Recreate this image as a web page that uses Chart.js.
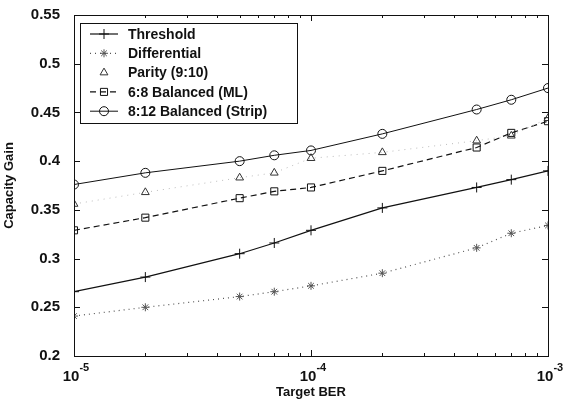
<!DOCTYPE html>
<html>
<head>
<meta charset="utf-8">
<script src="https://cdn.jsdelivr.net/npm/chart.js@4"></script>
<style>
  html, body { margin: 0; padding: 0; background: #fff; }
  #wrap { width: 568px; height: 405px; }
</style>
</head>
<body>
<div id="wrap"><canvas id="lineChart" width="568" height="405"></canvas></div>
<script>
// Target BER values (x axis)
const berTargets = [1e-5, 2e-5, 5e-5, 7e-5, 1e-4, 2e-4, 5e-4, 7e-4, 1e-3];

// Capacity gain per scheme
const threshold    = [0.266, 0.281, 0.305, 0.316, 0.329, 0.352, 0.373, 0.381, 0.390];
const differential = [0.241, 0.250, 0.261, 0.266, 0.272, 0.285, 0.311, 0.326, 0.334];
const parity       = [0.356, 0.368, 0.383, 0.388, 0.403, 0.409, 0.421, 0.426, 0.444];
const balanced68   = [0.329, 0.342, 0.362, 0.369, 0.373, 0.390, 0.414, 0.429, 0.441];
const balanced812  = [0.376, 0.388, 0.400, 0.406, 0.411, 0.428, 0.453, 0.463, 0.475];

const seriesNames = ['Threshold', 'Differential', 'Parity (9:10)', '6:8 Balanced (ML)', '8:12 Balanced (Strip)'];

const yTicks = [0.2, 0.25, 0.3, 0.35, 0.4, 0.45, 0.5, 0.55];
const xMajor = [1e-5, 1e-4, 1e-3];
const xExponents = ['-5', '-4', '-3'];

const FONT = "'Liberation Sans', Arial, 'DejaVu Sans', sans-serif";

const toPoints = (vals) => berTargets.map((b, i) => ({ x: b, y: vals[i] }));

// Inward tick marks, box and 10^n labels, MATLAB style
const frameTicks = {
    id: 'frameTicks',
    afterDraw(chart) {
        const { ctx, chartArea: a, scales } = chart;
        ctx.save();
        ctx.strokeStyle = '#111';
        ctx.lineWidth = 1;
        ctx.strokeRect(a.left + 0.5, a.top + 0.5, a.right - a.left, a.bottom - a.top);
        ctx.beginPath();
        for (let e = -5; e <= -3; e++) {
            for (let m = 1; m <= 9; m++) {
                const v = m * Math.pow(10, e);
                if (v > 1.0001e-3) break;
                const px = Math.round(scales.x.getPixelForValue(v)) + 0.5;
                const len = m === 1 ? 6 : 3;
                ctx.moveTo(px, a.bottom); ctx.lineTo(px, a.bottom - len);
                ctx.moveTo(px, a.top); ctx.lineTo(px, a.top + len);
            }
        }
        yTicks.forEach(v => {
            const py = Math.round(scales.y.getPixelForValue(v)) + 0.5;
            ctx.moveTo(a.left, py); ctx.lineTo(a.left + 6, py);
            ctx.moveTo(a.right, py); ctx.lineTo(a.right - 6, py);
        });
        ctx.stroke();

        // x tick labels as 10 with raised exponent
        ctx.fillStyle = '#111';
        ctx.textBaseline = 'alphabetic';
        xMajor.forEach((v, i) => {
            const px = scales.x.getPixelForValue(v);
            ctx.font = 'bold 15px ' + FONT;
            const wBase = ctx.measureText('10').width;
            ctx.font = 'bold 11px ' + FONT;
            const wExp = ctx.measureText(xExponents[i]).width;
            const x0 = px - (wBase + wExp) / 2 + 2;
            ctx.font = 'bold 15px ' + FONT;
            ctx.textAlign = 'left';
            ctx.fillText('10', x0, a.bottom + 25);
            ctx.font = 'bold 11px ' + FONT;
            ctx.fillText(xExponents[i], x0 + wBase, a.bottom + 15);
        });
        ctx.restore();
    }
};

// Boxed legend inside the plot, top-left
const boxLegend = {
    id: 'boxLegend',
    afterDraw(chart) {
        const { ctx, chartArea: a } = chart;
        const x0 = a.left + 6, y0 = a.top + 8, w = 217, h = 100, rowH = 19.3;
        ctx.save();
        ctx.fillStyle = '#fff';
        ctx.fillRect(x0, y0, w, h);
        ctx.strokeStyle = '#111';
        ctx.lineWidth = 1;
        ctx.strokeRect(x0 + 0.5, y0 + 0.5, w, h);
        ctx.font = 'bold 14px ' + FONT;
        ctx.textBaseline = 'middle';
        chart.data.datasets.forEach((ds, i) => {
            const cy = y0 + 11 + i * rowH;
            if (ds.legendLine !== false) {
                ctx.beginPath();
                ctx.setLineDash(ds.borderDash || []);
                ctx.strokeStyle = ds.borderColor;
                ctx.lineWidth = ds.borderWidth;
                ctx.moveTo(x0 + 10, cy); ctx.lineTo(x0 + 38, cy);
                ctx.stroke();
                ctx.setLineDash([]);
            }
            ctx.strokeStyle = ds.pointBorderColor;
            ctx.fillStyle = 'rgba(0,0,0,0)';
            ctx.lineWidth = ds.pointBorderWidth;
            Chart.helpers.drawPoint(ctx, {
                pointStyle: ds.pointStyle, radius: ds.pointRadius, rotation: 0, borderWidth: ds.pointBorderWidth
            }, x0 + 24, cy);
            ctx.fillStyle = '#111';
            ctx.fillText(ds.label, x0 + 48, cy + 1);
        });
        ctx.restore();
    }
};

const makeSet = (label, vals, opts) => Object.assign({
    label: label,
    data: toPoints(vals),
    borderColor: '#111',
    pointBorderColor: '#111',
    pointBackgroundColor: 'rgba(0,0,0,0)',
    borderWidth: 1.2,
    pointBorderWidth: 1,
    pointRadius: 4.5,
    tension: 0,
    fill: false
}, opts);

new Chart(document.getElementById('lineChart'), {
    type: 'line',
    data: {
        datasets: [
            makeSet(seriesNames[0], threshold, { pointStyle: 'cross', pointRadius: 5 }),
            makeSet(seriesNames[1], differential, { pointStyle: 'star', borderColor: '#555', borderWidth: 1.2, borderDash: [1, 4], pointBorderColor: '#555', pointRadius: 4 }),
            makeSet(seriesNames[2], parity, { pointStyle: 'triangle', borderColor: '#bbb', borderWidth: 1, borderDash: [1, 5], legendLine: false, pointBorderColor: '#333' }),
            makeSet(seriesNames[3], balanced68, { pointStyle: 'rect', borderDash: [6, 4], pointRadius: 5 }),
            makeSet(seriesNames[4], balanced812, { pointStyle: 'circle', borderWidth: 1, pointRadius: 4.5 })
        ]
    },
    options: {
        responsive: false,
        animation: false,
        layout: { padding: { top: 14, right: 20, left: 0, bottom: 0 } },
        plugins: {
            legend: { display: false },
            tooltip: { enabled: false }
        },
        scales: {
            x: {
                type: 'logarithmic',
                min: 1e-5,
                max: 1e-3,
                grid: { display: false },
                border: { display: false },
                afterFit: (s) => { s.height = 49; },
                afterBuildTicks: (s) => { s.ticks = xMajor.map(v => ({ value: v })); },
                ticks: {
                    autoSkip: false,
                    maxRotation: 0,
                    padding: 6,
                    font: { family: FONT, size: 14, weight: 'bold' },
                    callback: () => ''
                },
                title: {
                    display: true,
                    text: 'Target BER',
                    color: '#111',
                    padding: { top: 2, bottom: 5 },
                    font: { family: FONT, size: 13, weight: 'bold' }
                }
            },
            y: {
                min: 0.2,
                max: 0.55,
                grid: { display: false },
                border: { display: false },
                afterFit: (s) => { s.width = 74; },
                afterBuildTicks: (s) => { s.ticks = yTicks.map(v => ({ value: v })); },
                ticks: {
                    padding: 6,
                    color: '#111',
                    font: { family: FONT, size: 15, weight: 'bold' },
                    callback: (v) => String(parseFloat(Number(v).toFixed(2)))
                },
                title: {
                    display: true,
                    text: 'Capacity Gain',
                    color: '#111',
                    padding: { top: 2, bottom: 4 },
                    font: { family: FONT, size: 13, weight: 'bold' }
                }
            }
        }
    },
    plugins: [frameTicks, boxLegend]
});
</script>
</body>
</html>
